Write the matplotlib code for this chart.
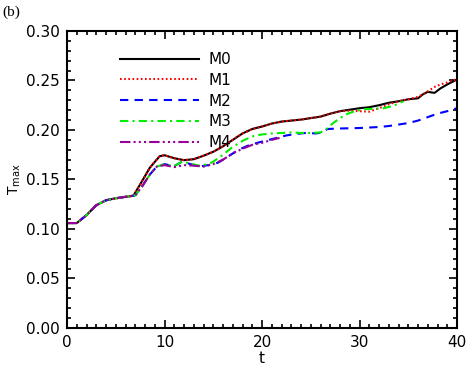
import numpy as np
import matplotlib
matplotlib.use("Agg")
import matplotlib.pyplot as plt
from matplotlib.ticker import MultipleLocator

# values
t_m0 = [0, 1, 2, 3, 4, 5, 6, 6.8, 7.5, 8.5, 9.5, 10, 11, 12, 13, 14, 15, 16, 17, 18,
        19, 20, 21, 22, 23, 24, 25, 26, 27, 28, 29, 30, 31, 32, 33, 34, 35, 36,
        36.5, 37, 37.7, 38.3, 39, 40]
m0 = [0.106, 0.106, 0.114, 0.124, 0.129, 0.131, 0.1325, 0.1335, 0.145, 0.162, 0.1735,
      0.1745, 0.1715, 0.1695, 0.1705, 0.174, 0.178, 0.1835, 0.190, 0.1965, 0.201,
      0.2035, 0.2065, 0.2085, 0.2095, 0.2105, 0.212, 0.2135, 0.2165, 0.219, 0.2205,
      0.222, 0.223, 0.225, 0.2275, 0.229, 0.231, 0.232, 0.236, 0.2385, 0.2375,
      0.242, 0.246, 0.251]

t_m1 = t_m0
m1 = [0.106, 0.106, 0.114, 0.124, 0.129, 0.131, 0.1325, 0.1335, 0.145, 0.162, 0.1735,
      0.1745, 0.1715, 0.1695, 0.1705, 0.174, 0.178, 0.1835, 0.190, 0.1965, 0.201,
      0.2035, 0.2065, 0.2085, 0.2095, 0.2105, 0.212, 0.2135, 0.2165, 0.219, 0.2195,
      0.219, 0.2185, 0.222, 0.226, 0.229, 0.231, 0.2335, 0.236, 0.239, 0.2435,
      0.246, 0.248, 0.2515]

t_m2 = [0, 1, 2, 3, 4, 5, 6, 7, 7.7, 8.5, 9.2, 10, 11, 11.8, 12.5, 13.5, 14.5, 15.5,
        16.5, 17.5, 18.5, 19.5, 20.5, 21.5, 22.5, 23.5, 24.5, 25.5, 26.2, 26.7, 28,
        30, 32, 33, 34, 35, 36, 37, 38, 39, 40]
m2 = [0.106, 0.106, 0.114, 0.124, 0.129, 0.131, 0.1325, 0.134, 0.143, 0.155, 0.163,
      0.1655, 0.1635, 0.168, 0.166, 0.163, 0.1645, 0.167, 0.173, 0.1795, 0.184,
      0.187, 0.1895, 0.192, 0.1945, 0.196, 0.197, 0.1965, 0.1975, 0.201, 0.2015,
      0.202, 0.203, 0.204, 0.2055, 0.207, 0.2095, 0.213, 0.2165, 0.219, 0.222]

t_m3 = [0, 1, 2, 3, 4, 5, 6, 7, 7.7, 8.5, 9.2, 10, 11, 11.8, 12.5, 13.5, 14.5, 15,
        16, 17, 18, 19, 20, 21, 22, 23, 24, 25, 26, 26.6, 27.3, 28, 28.7, 29.5,
        30.5, 31.5, 32.5, 33.5, 34.5]
m3 = [0.106, 0.106, 0.114, 0.124, 0.129, 0.131, 0.1325, 0.134, 0.143, 0.155, 0.163,
      0.1655, 0.1635, 0.168, 0.1665, 0.164, 0.1655, 0.168, 0.175, 0.183, 0.189,
      0.1935, 0.1955, 0.1965, 0.197, 0.1975, 0.197, 0.197, 0.1975, 0.201, 0.207,
      0.212, 0.216, 0.219, 0.221, 0.2215, 0.222, 0.2245, 0.229]

t_m4 = [0, 1, 2, 3, 4, 5, 6, 7, 7.7, 8.5, 9.2, 10, 11, 12, 13, 14, 15, 16, 17, 18,
        19, 20, 21, 21.8]
m4 = [0.106, 0.106, 0.114, 0.124, 0.129, 0.131, 0.1325, 0.134, 0.143, 0.155, 0.163,
      0.1645, 0.1625, 0.1645, 0.164, 0.163, 0.1655, 0.170, 0.1765, 0.181, 0.185,
      0.187, 0.190, 0.192]

labels = ["M0", "M1", "M2", "M3", "M4"]

plt.rcParams['font.family'] = 'DejaVu Sans'
plt.rcParams['mathtext.default'] = 'regular'

fig = plt.figure(figsize=(4.68, 3.72), dpi=100)
ax = fig.add_axes([0.1432, 0.1183, 0.8333, 0.7984])

ax.plot(t_m0, m0, color='black', lw=1.5, label=labels[0])
ax.plot(t_m1, m1, color='#ff0000', lw=1.5, linestyle=(0, (0.8, 1.2)), label=labels[1])
ax.plot(t_m2, m2, color='#0000ff', lw=1.5, linestyle=(0, (4, 3)), label=labels[2])
ax.plot(t_m3, m3, color='#00ee00', lw=1.5, linestyle=(0, (4, 2, 1, 2)), label=labels[3])
ax.plot(t_m4, m4, color='#990099', lw=1.5,
        linestyle=(0, (5, 1.5, 1, 1.5, 1, 1.5, 1, 1.5)), label=labels[4])

ax.set_xlim(0, 40)
ax.set_ylim(0, 0.30)
ax.xaxis.set_major_locator(MultipleLocator(10))
ax.xaxis.set_minor_locator(MultipleLocator(1))
ax.yaxis.set_major_locator(MultipleLocator(0.05))
ax.yaxis.set_minor_locator(MultipleLocator(0.01))
ax.yaxis.set_major_formatter(matplotlib.ticker.FormatStrFormatter('%.2f'))
ax.tick_params(which='both', direction='in', top=True, right=True, width=1.2,
               labelsize=11)
ax.tick_params(which='major', length=6, pad=5)
ax.tick_params(which='minor', length=3)
for sp in ax.spines.values():
    sp.set_linewidth(1.5)

ax.set_xlabel('t', fontsize=11, labelpad=1)
ax.set_ylabel(r'T$_{max}$', fontsize=10, labelpad=2)

leg = ax.legend(loc='upper left', bbox_to_anchor=(0.12, 0.95), frameon=False,
                fontsize=11, handlelength=5.2, handletextpad=0.6,
                labelspacing=0.38, borderaxespad=0)

fig.text(0.006, 0.985, '(b)', family='Liberation Serif', fontsize=11,
         ha='left', va='top')

fig.savefig('out.png', dpi=100)
